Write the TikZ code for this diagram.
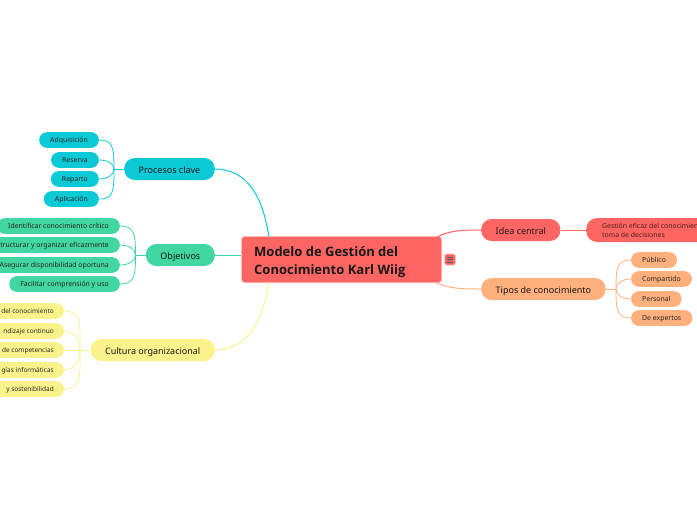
\documentclass[tikz,border=0pt]{standalone}
\usepackage{fontspec}
\setmainfont{Noto Sans}
\newfontfamily\titlefont{Open Sans}
\definecolor{cenred}{HTML}{FF6663}
\definecolor{teal1}{HTML}{0BCAD6}
\definecolor{green1}{HTML}{42D7A2}
\definecolor{yellow1}{HTML}{FAF38B}
\definecolor{orange1}{HTML}{FFB07C}
\tikzset{
  topic/.style={rounded corners=10.5pt, minimum height=22pt, inner xsep=14.5pt, inner ysep=0pt, text height=8.5pt, text depth=0.3pt, font=\fontsize{9}{10}\selectfont, text=black!90},
  leaf/.style={rounded corners=7.5pt, minimum height=15.6pt, inner xsep=11pt, inner ysep=0pt, text height=6pt, text depth=0.5pt, font=\fontsize{6.9}{8}\selectfont, text=black!85},
  stub/.style={leaf, minimum width=140pt, anchor=east},
  stubtext/.style={leaf, anchor=east, inner xsep=10pt, font=\fontsize{6.5}{8}\selectfont},
  link/.style={line width=1pt},
  twig/.style={line width=0.8pt}
}
\begin{document}
\begin{tikzpicture}[x=1pt,y=-1pt]
    \useasboundingbox (0,0) rectangle (697,520);

    % connectors come first, the nodes lie on top
    \path (341.5,259.5) coordinate (cen);
    \coordinate (maintop) at (269,237);
    \coordinate (mainbot) at (269,282);
    \coordinate (mainupr) at (437,237);
    \coordinate (mainlwr) at (437,283);

    % centre
    \node[fill=cenred, draw=white!70!cenred, line width=0.6pt, rounded corners=3.5pt, minimum width=200.5pt, minimum height=46.5pt, inner sep=0pt] (main) at (cen) {};
    \node[anchor=west, align=left, font=\titlefont\fontsize{13}{18.2}\selectfont\bfseries, text=black!90, inner sep=0pt] (maintext) at (254,262) {Modelo de Gestión del\\Conocimiento Karl Wiig};

    % icon
    \node[fill=cenred, draw=white!55!cenred, line width=0.6pt, rounded corners=1.5pt, minimum width=10.5pt, minimum height=11pt, inner sep=0pt] (icon) at (450,259.5) {};
    \draw[black!65, line width=0.7pt] (icon.center) ++(-3,-2.5) -- ++(6,0) ++(-6,2.5) -- ++(6,0) ++(-6,2.5) -- ++(6,0);

    % left topics
    \node[topic, fill=teal1, anchor=east] (procesos) at (215,169) {Procesos clave};
    \node[topic, fill=green1, anchor=east] (objetivos) at (215,255) {Objetivos};
    \node[topic, fill=yellow1, anchor=east] (cultura) at (215,350) {Cultura organizacional};

    % right topics
    \node[topic, fill=cenred, anchor=west] (idea) at (481,230) {Idea central};
    \node[topic, fill=orange1, anchor=west] (tipos) at (481,289) {Tipos de conocimiento};

    \draw[link, teal1] (procesos.east) .. controls (248,169) and (263,198) .. (maintop);
    \draw[link, green1] (objetivos.east) -- (main.west |- objetivos.east);
    \draw[link, yellow1] (cultura.east) .. controls (248,350) and (263,320) .. (mainbot);
    \draw[link, cenred] (idea.west) .. controls (465,230) and (450,230) .. (mainupr);
    \draw[link, orange1] (tipos.west) .. controls (465,289) and (450,289) .. (mainlwr);

    % procesos clave
    \node[leaf, fill=teal1, anchor=east] (adq) at (99,140) {Adquisición};
    \node[leaf, fill=teal1, anchor=east] (res) at (99,160) {Reserva};
    \node[leaf, fill=teal1, anchor=east] (rep) at (99,179) {Reparto};
    \node[leaf, fill=teal1, anchor=east] (apl) at (99,199) {Aplicación};
    \coordinate (projoin) at (114,169);
    \draw[link, teal1] (procesos.west) -- (projoin);
    \foreach \n/\o/\l in {adq/90/1.7, res/90/0.9, rep/-90/0.9, apl/-90/1.7}
        \draw[twig, teal1] (projoin) to[out=\o, in=0, out looseness=\l, in looseness=1.1] (\n.east);

    % objetivos
    \node[leaf, fill=green1, anchor=east] (ide) at (120,226) {Identificar conocimiento crítico};
    \node[stub, fill=green1] (est) at (120,245) {};
    \node[stubtext, font=\fontsize{6.9}{8}\selectfont, inner xsep=11pt] (esttext) at (est.east) {tructurar y organizar eficazmente};
    \node[leaf, fill=green1, anchor=east] (ase) at (120,265) {Asegurar disponibilidad oportuna};
    \node[leaf, fill=green1, anchor=east] (fac) at (120,284) {Facilitar comprensión y uso};
    \coordinate (objjoin) at (135.5,255);
    \draw[link, green1] (objetivos.west) -- (objjoin);
    \foreach \n/\o/\l in {ide/90/1.7, est/90/0.9, ase/-90/0.9, fac/-90/1.7}
        \draw[twig, green1] (objjoin) to[out=\o, in=0, out looseness=\l, in looseness=1.1] (\n.east);

    % cultura organizacional
    \foreach \n/\y/\t in {cul1/311/del conocimiento, cul2/331/ndizaje continuo, cul3/350/de competencias, cul4/370/gías informáticas, cul5/389/y sostenibilidad} {
        \node[stub, fill=yellow1] (\n) at (64,\y) {};
        \node[stubtext] (\n text) at (\n.east) {\t};
    }
    \coordinate (culjoin) at (80,350);
    \draw[link, yellow1] (cultura.west) -- (culjoin);
    \draw[twig, yellow1] (culjoin) -- (cul3.east);
    \foreach \n/\o/\l in {cul1/90/1.5, cul2/90/1.0, cul4/-90/1.0, cul5/-90/1.5}
        \draw[twig, yellow1] (culjoin) to[out=\o, in=0, out looseness=\l, in looseness=1.1] (\n.east);

    % idea central
    \node[fill=cenred, rounded corners=11pt, anchor=west, minimum width=140pt, minimum height=24pt, inner ysep=0pt, inner xsep=0pt] (ges) at (586,230) {};
    \node[anchor=west, align=left, inner sep=0pt, font=\fontsize{6.9}{9}\selectfont, text=black!70!cenred] (gestext) at (602,230.5) {Gestión eficaz del conocimien\\toma de decisiones};
    \draw[link, cenred] (idea.east) -- (ges.west);

    % tipos de conocimiento
    \node[leaf, fill=orange1, anchor=west] (pub) at (631,260) {Público};
    \node[leaf, fill=orange1, anchor=west] (com) at (631,279) {Compartido};
    \node[leaf, fill=orange1, anchor=west] (per) at (631,299) {Personal};
    \node[leaf, fill=orange1, anchor=west] (dex) at (631,318) {De expertos};
    \coordinate (tipjoin) at (616,289);
    \draw[link, orange1] (tipos.east) -- (tipjoin);
    \foreach \n/\o/\l in {pub/90/1.7, com/90/0.9, per/-90/0.9, dex/-90/1.7}
        \draw[twig, orange1] (tipjoin) to[out=\o, in=180, out looseness=\l, in looseness=1.1] (\n.west);
\end{tikzpicture}
\end{document}
